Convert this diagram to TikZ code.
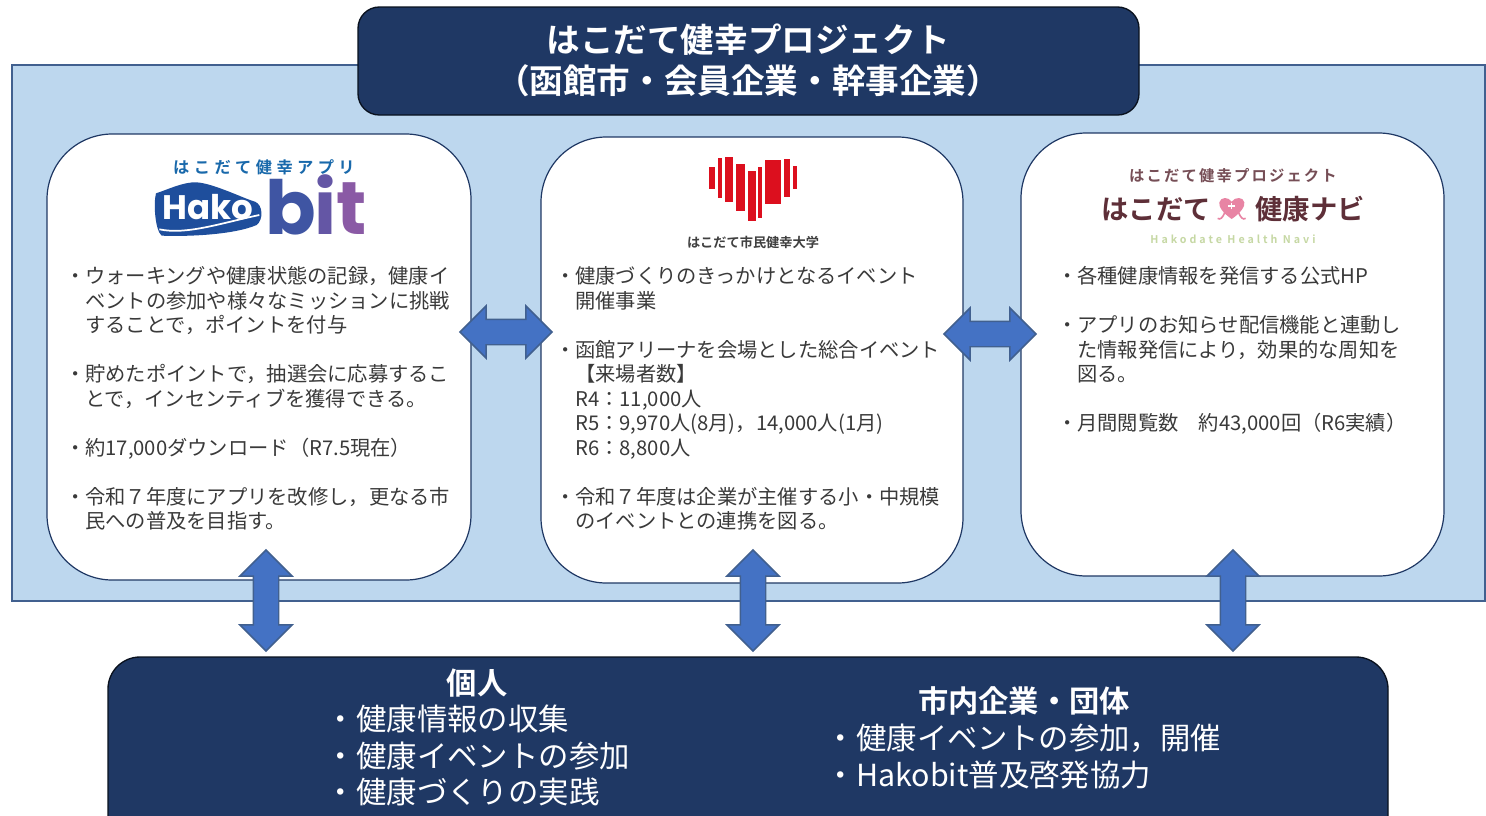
\documentclass[tikz,border=0pt]{standalone}
\usepackage{fontspec}
\setmainfont{Noto Sans CJK JP}[BoldFont={Noto Sans CJK JP Bold}]
\newfontfamily\latinbold{Poppins}[BoldFont={Poppins Bold}]
\usetikzlibrary{shapes.arrows}
\definecolor{navybox}{HTML}{1F3864}
\definecolor{paleblue}{HTML}{BDD7EE}
\definecolor{edgeblue}{HTML}{41608F}
\definecolor{arrowblue}{HTML}{4472C4}
\definecolor{bodygray}{HTML}{3A3A3A}
\definecolor{hakoblue}{HTML}{1E4E9C}
\definecolor{navimaroon}{HTML}{5E2F38}
\definecolor{navipink}{HTML}{E884A4}
\definecolor{navigreen}{HTML}{C6D8A4}
\definecolor{heartred}{HTML}{DC0F1E}
\newcommand{\hb}{\makebox[0pt][r]{・}}
\tikzset{
  x=0.75pt,y=-0.75pt,
  panel/.style={draw=edgeblue,line width=1.1pt,fill=paleblue},
  navypanel/.style={draw=black!70!navybox,line width=1pt,fill=navybox,rounded corners=#1},
  card/.style={draw=navybox,line width=0.9pt,fill=white,rounded corners=49pt},
  bodytext/.style={anchor=north west,inner sep=0pt,align=left,text=bodygray,
    font=\fontsize{15.2pt}{18.35pt}\selectfont},
  titletext/.style={inner sep=0pt,align=center,text=white,
    font=\fontsize{25.2pt}{30.8pt}\selectfont\bfseries},
  headtext/.style={inner sep=0pt,text=white,font=\fontsize{22.7pt}{27pt}\selectfont\bfseries},
  listtext/.style={anchor=north west,inner sep=0pt,align=left,text=white,
    font=\fontsize{22.8pt}{27.4pt}\selectfont},
  dblarrow/.style={shape=double arrow,draw=edgeblue,line width=1.1pt,fill=arrowblue,
    inner xsep=0pt,inner ysep=9pt,
    double arrow head extend=10pt,double arrow tip angle=90,double arrow head indent=0pt,
    minimum height=#1*0.75pt},
  logotext/.style={inner sep=0pt},
}
\begin{document}
\begin{tikzpicture}
\clip (0,0) rectangle (1486,815);
\fill[white] (0,0) rectangle (1486,815);
% outer panel
\draw[panel] (12,65) rectangle (1485,601);
% title
\draw[navypanel=16pt] (358,7) rectangle (1139,115);
\node[titletext] (title) at (748,60) {はこだて健幸プロジェクト\\（函館市・会員企業・幹事企業）};
% cards
\draw[card] (47,134) rectangle (471,580);
\draw[card] (541,137) rectangle (963,583);
\draw[card] (1021,133) rectangle (1444,576);
% bottom
\draw[navypanel=24pt] (108,657) rectangle (1388,850);
\node[headtext] (ind) at (477,683) {個人};
\node[listtext] (indlist) at (356,705) {\hb 健康情報の収集\\\hb 健康イベントの参加\\\hb 健康づくりの実践};
\node[headtext] (biz) at (1024,701) {市内企業・団体};
\node[listtext] (bizlist) at (856,724) {\hb 健康イベントの参加，開催\\\hb Hakobit普及啓発協力};
% card texts
\node[bodytext] (t1) at (85,266.5) {\hb ウォーキングや健康状態の記録，健康イ\\
ベントの参加や様々なミッションに挑戦\\
することで，ポイントを付与\\ \mbox{}\\
\hb 貯めたポイントで，抽選会に応募するこ\\
とで，インセンティブを獲得できる。\\ \mbox{}\\
\hb 約17,000ダウンロード（R7.5現在）\\ \mbox{}\\
\hb 令和７年度にアプリを改修し，更なる市\\
民への普及を目指す。};
\node[bodytext] (t2) at (575,266.5) {\hb 健康づくりのきっかけとなるイベント\\
開催事業\\ \mbox{}\\
\hb 函館アリーナを会場とした総合イベント\\
【来場者数】\\
R4：11,000人\\
R5：9,970人(8月)，14,000人(1月)\\
R6：8,800人\\ \mbox{}\\
\hb 令和７年度は企業が主催する小・中規模\\
のイベントとの連携を図る。};
\node[bodytext] (t3) at (1077,266.5) {\hb 各種健康情報を発信する公式HP\\ \mbox{}\\
\hb アプリのお知らせ配信機能と連動し\\
た情報発信により，効果的な周知を\\
図る。\\ \mbox{}\\
\hb 月間閲覧数　約43,000回（R6実績）};
% Hakobit logo
\node[logotext,text=hakoblue!85!cyan] (hako0) at (264,167)
  {\fontsize{12.2pt}{14pt}\selectfont\bfseries\addfontfeature{LetterSpace=27}はこだて健幸アプリ};
\begin{scope}[shift={(100,140)},x=0.25pt,y=-0.25pt]
\fill[hakoblue] (168,160) .. controls (200,150) and (250,125) .. (290,127)
  .. controls (340,130) and (430,175) .. (465,185)
  .. controls (490,195) and (490,240) .. (470,255)
  .. controls (400,285) and (260,290) .. (185,287)
  .. controls (165,270) and (160,190) .. (168,160) -- cycle;
\draw[white,line width=1.3pt] (178,268) .. controls (260,285) and (360,250) .. (478,225);
\end{scope}
\node[logotext,text=white] (hako1) at (208,207.5)
  {\fontsize{25.5pt}{28pt}\selectfont\latinbold\bfseries Hako};
\node[logotext,anchor=base] (hako2) at (316,234)
  {\fontsize{56pt}{60pt}\selectfont\latinbold\bfseries\textcolor[HTML]{3F55A3}{b}\kern-1pt\textcolor[HTML]{6456A5}{i}\kern-0.5pt\textcolor[HTML]{8A5AA5}{t}};
% heart logo
\begin{scope}[shift={(660,145)},x=0.25pt,y=-0.25pt]
\fill[heartred] (147,66) rectangle (165,132);
\fill[heartred] (174,40) rectangle (185,158);
\fill[heartred] (194,36) rectangle (219,172);
\fill[heartred] (227,58) rectangle (256,198);
\fill[heartred] (265,78) rectangle (288,228);
\fill[heartred] (295,66) rectangle (306,218);
\fill[heartred] (316,46) rectangle (363,176);
\fill[heartred] (372,42) rectangle (390,156);
\fill[heartred] (398,63) rectangle (411,133);
\end{scope}
\node[logotext,text=black!75] (univ) at (753,242)
  {\fontsize{9.9pt}{12pt}\selectfont\bfseries はこだて市民健幸大学};
% navi logo
\node[logotext,text=navimaroon!85] (navi0) at (1233,176)
  {\fontsize{11.5pt}{14pt}\selectfont\bfseries\addfontfeature{LetterSpace=14}はこだて健幸プロジェクト};
\node[logotext,text=navimaroon] (navi1) at (1156,209)
  {\fontsize{20.5pt}{24pt}\selectfont\bfseries はこだて};
\node[logotext,text=navimaroon] (navi2) at (1310,209)
  {\fontsize{20.5pt}{24pt}\selectfont\bfseries 健康ナビ};
\begin{scope}[shift={(1090,155)},x=0.25pt,y=-0.25pt]
\fill[navipink] (425,192) .. controls (400,175) and (385,155) .. (388,142)
  .. controls (392,125) and (415,125) .. (425,140)
  .. controls (435,125) and (460,125) .. (463,142)
  .. controls (466,155) and (450,175) .. (425,192) -- cycle;
\draw[navipink,line width=1.2pt] (405,170) .. controls (398,190) and (390,195) .. (383,190);
\draw[navipink,line width=1.2pt] (445,170) .. controls (452,190) and (460,195) .. (467,190);
\draw[white,line width=1.2pt] (425,143) -- (425,163) (415,153) -- (435,153);
\end{scope}
\node[logotext,text=navigreen] (navi3) at (1233,239)
  {\fontsize{8pt}{10pt}\selectfont\bfseries\addfontfeature{LetterSpace=28}Hakodate Health Navi};
% double arrows
\node[dblarrow=92] (a1) at (506,332) {};
\node[dblarrow=92] (a2) at (990,334) {};
\node[dblarrow=101,rotate=90] (a3) at (266,600.5) {};
\node[dblarrow=101,rotate=90] (a4) at (753,600.5) {};
\node[dblarrow=101,rotate=90] (a5) at (1233,600.5) {};
\end{tikzpicture}
\end{document}
